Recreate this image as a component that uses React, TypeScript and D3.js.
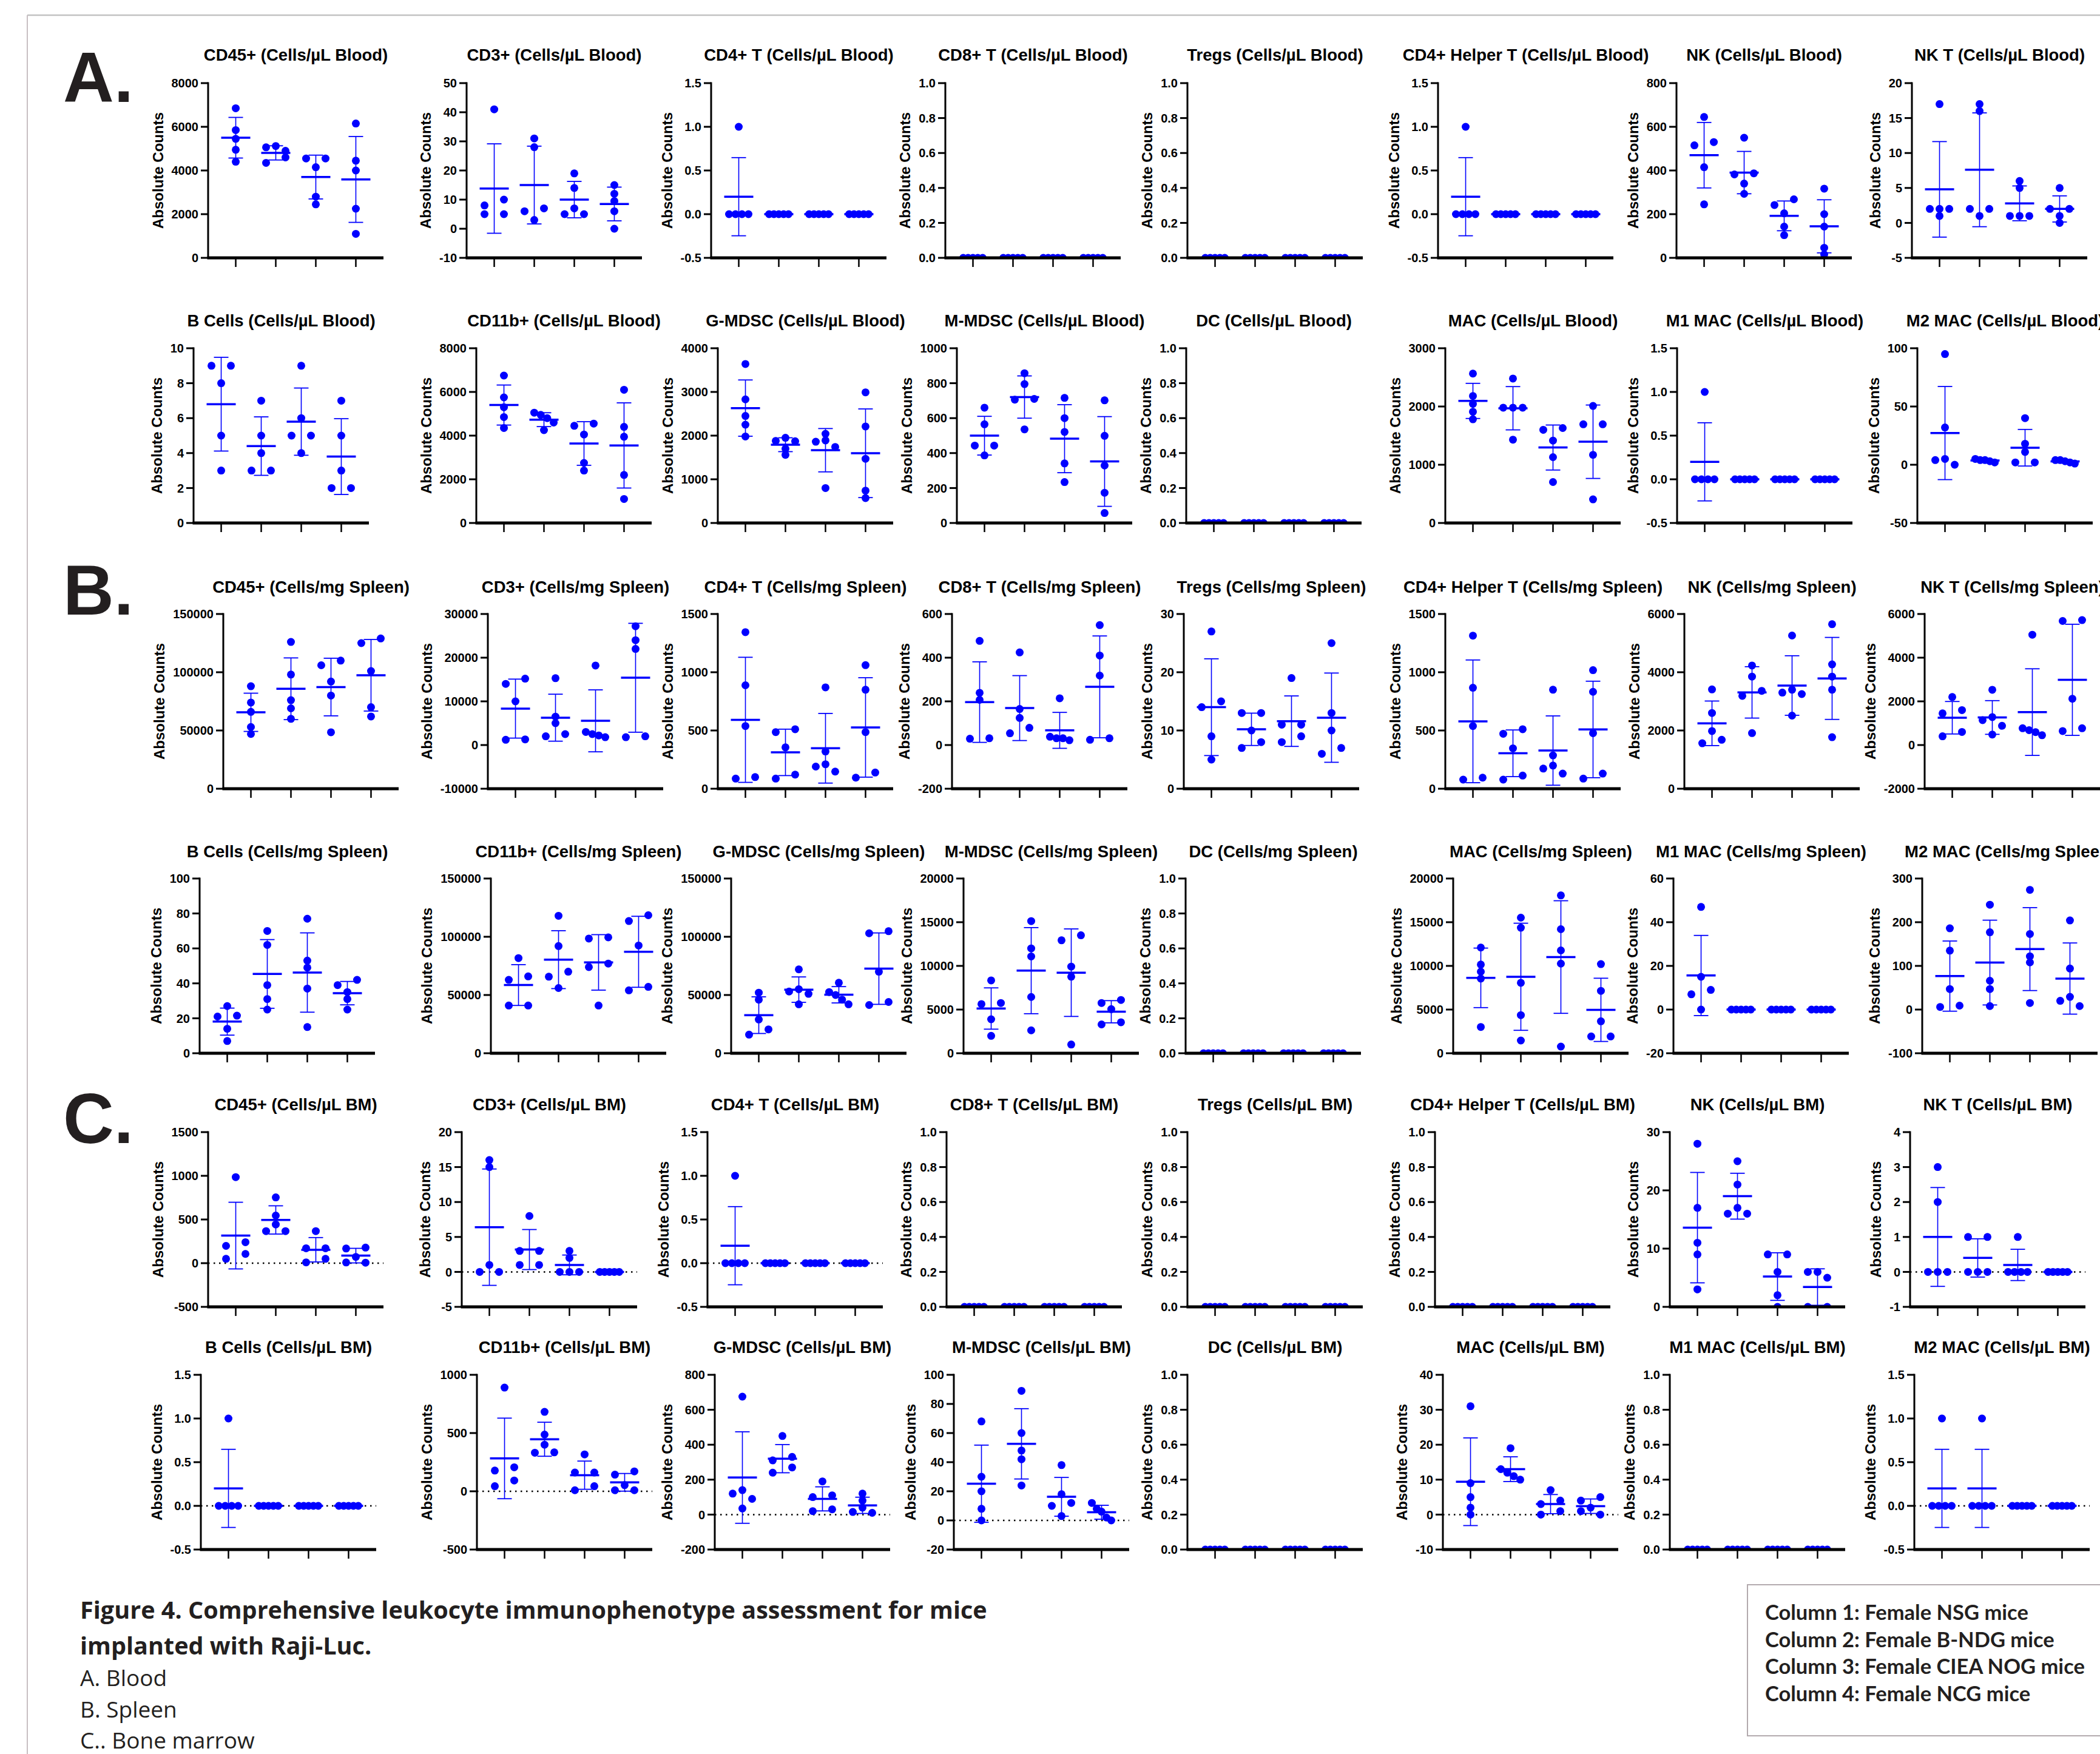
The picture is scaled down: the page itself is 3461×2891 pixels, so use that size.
import React from 'react';
import * as d3 from 'd3';

// ---------- DATA ----------
const groups = ['Female NSG mice', 'Female B-NDG mice', 'Female CIEA NOG mice', 'Female NCG mice'];
const Z = [0, 0, 0, 0, 0];
const ONE = [1, 0, 0, 0, 0];

// A. Blood (cells/µL)
const bloodCD45 = [[6850, 5850, 5450, 4950, 4400], [5120, 5060, 4900, 4600, 4350], [4550, 4550, 4150, 2800, 2450], [6150, 4450, 4000, 2250, 1100]];
const bloodCD3 = [[41, 10, 8, 5, 5], [31, 28, 7, 6, 3], [19, 14, 7, 5, 5], [15, 12, 9.5, 6, 0]];
const bloodCD4T = [ONE, Z, Z, Z];
const bloodCD8T = [Z, Z, Z, Z];
const bloodTregs = [Z, Z, Z, Z];
const bloodCD4Helper = [ONE, Z, Z, Z];
const bloodNK = [[645, 530, 515, 415, 245], [550, 387, 382, 340, 293], [268, 242, 204, 143, 104], [317, 200, 143, 46, 16]];
const bloodNKT = [[17, 2, 2, 2, 1], [17, 16, 2, 2, 1], [6, 5, 1, 1, 1], [5, 2, 2, 1, 0]];
const bloodB = [[9, 9, 8, 5, 3], [7, 5, 4, 3, 3], [9, 6, 5, 5, 4], [7, 5, 3, 2, 2]];
const bloodCD11b = [[6750, 5750, 5300, 4850, 4350], [5050, 4950, 4800, 4600, 4250], [4550, 4450, 4050, 2750, 2400], [6100, 4400, 3950, 2200, 1100]];
const bloodGMDSC = [[3640, 2830, 2450, 2250, 1980], [1950, 1880, 1870, 1700, 1560], [2040, 1890, 1860, 1740, 800], [2990, 2210, 1470, 740, 570]];
const bloodMMDSC = [[660, 565, 443, 443, 387], [857, 795, 710, 706, 536], [716, 600, 521, 341, 234], [702, 499, 329, 173, 57]];
const bloodDC = [Z, Z, Z, Z];
const bloodMAC = [[2565, 2180, 2045, 1910, 1780], [2480, 1980, 1980, 1980, 1430], [1630, 1600, 1415, 1130, 703], [2010, 1695, 1695, 1170, 405]];
const bloodM1 = [ONE, Z, Z, Z];
const bloodM2 = [[95, 32, 5, 4, 0], [5, 4, 4, 3, 2], [40, 18, 11, 2, 2], [4, 4, 3, 2, 1]];

// B. Spleen (cells/mg)
const spleenCD45 = [[88000, 74000, 66000, 53000, 47000], [126000, 98000, 76000, 69000, 60000], [110000, 106000, 92000, 80000, 48500], [129000, 125000, 101000, 70000, 62000]];
const spleenCD3 = [[15200, 14000, 10000, 1300, 1200], [15300, 6500, 5000, 2500, 2000], [18200, 3000, 2500, 2200, 1800], [27200, 24000, 22000, 2000, 1800]];
const spleenCD4T = [[1344, 888, 538, 100, 87], [511, 486, 355, 121, 87], [870, 320, 210, 190, 147], [1061, 850, 486, 139, 95]];
const spleenCD8T = [[477, 239, 207, 31, 29], [424, 165, 124, 79, 54], [214, 38, 31, 31, 22], [549, 410, 318, 31, 24]];
const spleenTregs = [[27, 15, 14, 9, 5], [13, 13, 10, 8, 7], [19, 11, 11, 9, 8], [25, 13, 10, 7, 6]];
const spleenCD4Helper = [[1314, 867, 538, 95, 78], [511, 472, 347, 113, 78], [850, 286, 199, 173, 130], [1018, 832, 477, 130, 87]];
const spleenNK = [[3410, 2600, 1980, 1680, 1560], [4230, 3850, 3360, 3190, 1910], [5260, 3400, 3300, 3250, 2510], [5650, 4270, 3850, 3400, 1770]];
const spleenNKT = [[2200, 1600, 1450, 600, 400], [2530, 1280, 1140, 880, 480], [5050, 770, 680, 590, 450], [5720, 5680, 2120, 770, 640]];
const spleenB = [[27, 21.5, 21, 14, 7], [70, 62, 39, 31, 25], [77, 53, 49, 37, 15], [42, 39, 35, 31, 25]];
const spleenCD11b = [[81700, 66000, 63000, 41000, 41000], [118000, 92000, 70000, 65700, 56000], [99500, 98500, 77000, 74000, 41000], [118500, 113500, 92500, 57000, 54000]];
const spleenGMDSC = [[52000, 46000, 29000, 20500, 16000], [72000, 55000, 53000, 51000, 42000], [60500, 52500, 50000, 46000, 42000], [104800, 103000, 70000, 44000, 41400]];
const spleenMMDSC = [[8340, 5750, 5630, 3890, 1990], [15130, 12000, 11080, 6440, 2620], [13500, 12930, 9920, 8760, 1000], [6100, 5750, 5050, 3550, 3300]];
const spleenDC = [Z, Z, Z, Z];
const spleenMAC = [[12100, 10150, 9340, 8550, 3010], [15520, 14370, 8060, 4360, 1460], [18070, 14200, 11770, 10260, 765], [10200, 7140, 3660, 1920, 1920]];
const spleenM1 = [[47, 15, 9, 7, 0], Z, Z, Z];
const spleenM2 = [[186, 135, 47, 9, 6], [240, 177, 66, 47, 8], [274, 173, 122, 108, 15], [204, 94, 29, 20, 8]];

// C. Bone marrow (cells/µL)
const bmCD45 = [[985, 240, 198, 106, 50], [753, 545, 443, 367, 367], [367, 171, 171, 50, 9], [178, 168, 72, 8, 6]];
const bmCD3 = [[16, 15, 1, 0, 0], [8, 3, 3, 1, 1], [3, 2, 0, 0, 0], Z];
const bmCD4T = [ONE, Z, Z, Z];
const bmCD8T = [Z, Z, Z, Z];
const bmTregs = [Z, Z, Z, Z];
const bmCD4Helper = [Z, Z, Z, Z];
const bmNK = [[28, 17, 11, 9, 3], [25, 21, 17, 16, 16], [9, 9, 6, 2, 0], [6, 6, 5, 0, 0]];
const bmNKT = [[3, 2, 0, 0, 0], [1, 1, 0, 0, 0], [1, 0, 0, 0, 0], Z];
const bmB = [ONE, Z, Z, Z];
const bmCD11b = [[890, 206, 178, 93, 44], [682, 487, 400, 334, 331], [317, 161, 161, 44, 9], [171, 143, 53, 9, 9]];
const bmGMDSC = [[675, 140, 120, 90, 35], [450, 330, 310, 270, 240], [190, 110, 100, 30, 20], [120, 80, 40, 15, 10]];
const bmMMDSC = [[68, 30, 20, 8, 0], [89, 60, 48, 42, 24], [38, 18, 12, 10, 3], [12, 8, 6, 2, 0]];
const bmDC = [Z, Z, Z, Z];
const bmMAC = [[31, 9, 5, 2, 0], [19, 13, 12, 11, 10], [7, 4, 3, 1, 0], [5, 4, 2, 1, 0]];
const bmM1 = [Z, Z, Z, Z];
const bmM2 = [ONE, ONE, Z, Z];

// titles
const row1Cells = ['CD45+', 'CD3+', 'CD4+ T', 'CD8+ T', 'Tregs', 'CD4+ Helper T', 'NK', 'NK T'];
const row2Cells = ['B Cells', 'CD11b+', 'G-MDSC', 'M-MDSC', 'DC', 'MAC', 'M1 MAC', 'M2 MAC'];
const tissueUnits = ['(Cells/µL Blood)', '(Cells/mg Spleen)', '(Cells/µL BM)'];

// y-axis [min, max, step]
const axesA1 = [[0, 8000, 2000], [-10, 50, 10], [-0.5, 1.5, 0.5], [0, 1, 0.2], [0, 1, 0.2], [-0.5, 1.5, 0.5], [0, 800, 200], [-5, 20, 5]];
const axesA2 = [[0, 10, 2], [0, 8000, 2000], [0, 4000, 1000], [0, 1000, 200], [0, 1, 0.2], [0, 3000, 1000], [-0.5, 1.5, 0.5], [-50, 100, 50]];
const axesB1 = [[0, 150000, 50000], [-10000, 30000, 10000], [0, 1500, 500], [-200, 600, 200], [0, 30, 10], [0, 1500, 500], [0, 6000, 2000], [-2000, 6000, 2000]];
const axesB2 = [[0, 100, 20], [0, 150000, 50000], [0, 150000, 50000], [0, 20000, 5000], [0, 1, 0.2], [0, 20000, 5000], [-20, 60, 20], [-100, 300, 100]];
const axesC1 = [[-500, 1500, 500], [-5, 20, 5], [-0.5, 1.5, 0.5], [0, 1, 0.2], [0, 1, 0.2], [0, 1, 0.2], [0, 30, 10], [-1, 4, 1]];
const axesC2 = [[-0.5, 1.5, 0.5], [-500, 1000, 500], [-200, 800, 200], [-20, 100, 20], [0, 1, 0.2], [-10, 40, 10], [0, 1, 0.2], [-0.5, 1.5, 0.5]];

const dataA1 = [bloodCD45, bloodCD3, bloodCD4T, bloodCD8T, bloodTregs, bloodCD4Helper, bloodNK, bloodNKT];
const dataA2 = [bloodB, bloodCD11b, bloodGMDSC, bloodMMDSC, bloodDC, bloodMAC, bloodM1, bloodM2];
const dataB1 = [spleenCD45, spleenCD3, spleenCD4T, spleenCD8T, spleenTregs, spleenCD4Helper, spleenNK, spleenNKT];
const dataB2 = [spleenB, spleenCD11b, spleenGMDSC, spleenMMDSC, spleenDC, spleenMAC, spleenM1, spleenM2];
const dataC1 = [bmCD45, bmCD3, bmCD4T, bmCD8T, bmTregs, bmCD4Helper, bmNK, bmNKT];
const dataC2 = [bmB, bmCD11b, bmGMDSC, bmMMDSC, bmDC, bmMAC, bmM1, bmM2];

const captionLines = ['Figure 4. Comprehensive leukocyte immunophenotype assessment for mice', 'implanted with Raji-Luc.'];
const captionParts = ['A. Blood', 'B. Spleen', 'C.. Bone marrow'];

// ---------- LAYOUT ----------
const W = 3461;
const H = 2891;
const AXIS_W = 289;
const rowAxisX = [
  [343, 769, 1172, 1558, 1957, 2370, 2763, 3151],
  [319, 785, 1183, 1577, 1955, 2382, 2764, 3160],
  [368, 804, 1183, 1569, 1951, 2382, 2776, 3172],
  [329, 809, 1205, 1588, 1954, 2395, 2758, 3168],
  [343, 761, 1166, 1560, 1957, 2365, 2752, 3148],
  [331, 786, 1178, 1572, 1957, 2378, 2752, 3155],
];
const rowY = [
  { top: 137, bottom: 425, title: 100 },
  { top: 574, bottom: 862, title: 538 },
  { top: 1012, bottom: 1300, title: 977 },
  { top: 1448, bottom: 1736, title: 1413 },
  { top: 1866, bottom: 2154, title: 1830 },
  { top: 2266, bottom: 2554, title: 2230 },
];

const BLUE = '#0000ff';
const PANEL_FONT = '"Liberation Sans", Arial, Helvetica, sans-serif';

function fmtTick(v: number, step: number) {
  const s = step < 1 ? d3.format('.1f')(v) : d3.format('d')(Math.round(v));
  return s.replace('\u2212', '-');
}
function estWidth(s: string) {
  let w = 0;
  for (const ch of s) w += ch === '-' ? 6.7 : ch === '.' ? 5.6 : 11.1;
  return w;
}

function swarmOffsets(vals: number[], y: (v: number) => number) {
  const idx = vals.map((_, i) => i).sort((a, b) => vals[b] - vals[a]);
  const off = new Array(vals.length).fill(0);
  let cluster: number[] = [idx[0]];
  const flush = () => {
    const n = cluster.length;
    if (n === 2) { off[cluster[0]] = 16; off[cluster[1]] = -16; }
    else if (n === 3) { off[cluster[0]] = 0; off[cluster[1]] = -16; off[cluster[2]] = 16; }
    else if (n > 3) cluster.forEach((k, j) => { off[k] = -16 + (32 * j) / (n - 1); });
  };
  for (let j = 1; j < idx.length; j++) {
    const p = idx[j - 1], c = idx[j];
    if (Math.abs(y(vals[p]) - y(vals[c])) < 10) cluster.push(c);
    else { flush(); cluster = [c]; }
  }
  flush();
  return off;
}

type PanelProps = { id: string; title: string; ax: number; top: number; bottom: number; titleY: number; axis: number[]; data: number[][]; dotted: boolean };

function Panel({ id, title, ax, top, bottom, titleY, axis, data, dotted }: PanelProps) {
  const [min, max, step] = axis;
  const y = d3.scaleLinear().domain([min, max]).range([bottom, top]);
  const x = d3.scalePoint<number>().domain([0, 1, 2, 3]).range([ax, ax + AXIS_W]).padding(0.69);
  const ticks = d3.range(min, max + step / 2, step);
  const labels = ticks.map((t) => fmtTick(t, step));
  const maxW = d3.max(labels, estWidth) || 0;
  const labelX = ax - 16 - maxW - 14;
  const cy = (top + bottom) / 2;
  const clipId = `clip-${id}`;
  return (
    <g fontFamily={PANEL_FONT} fontWeight="bold">
      <defs>
        <clipPath id={clipId}>
          <rect x={ax - 40} y={top - 30} width={AXIS_W + 80} height={bottom - top + 30} />
        </clipPath>
      </defs>
      <text x={ax + AXIS_W / 2} y={titleY} textAnchor="middle" fontSize={27.5} fill="#000">{title}</text>
      <text transform={`translate(${labelX},${cy}) rotate(-90)`} textAnchor="middle" fontSize={24} fill="#000">Absolute Counts</text>
      {dotted && min < 0 && (
        <line x1={ax} x2={ax + AXIS_W} y1={y(0)} y2={y(0)} stroke="#000" strokeWidth={2.5} strokeDasharray="2.5 6.5" />
      )}
      <g clipPath={`url(#${clipId})`}>
        {data.map((vals, gi) => {
          const cx = x(gi) as number;
          const off = swarmOffsets(vals, y);
          const m = d3.mean(vals) as number;
          const sd = d3.deviation(vals) || 0;
          return (
            <g key={gi}>
              {vals.map((v, k) => (
                <circle key={k} cx={cx + off[k]} cy={y(v)} r={6.5} fill={BLUE} />
              ))}
              <line x1={cx} x2={cx} y1={y(m - sd)} y2={y(m + sd)} stroke={BLUE} strokeWidth={1.6} />
              <line x1={cx - 12} x2={cx + 12} y1={y(m - sd)} y2={y(m - sd)} stroke={BLUE} strokeWidth={1.8} />
              <line x1={cx - 12} x2={cx + 12} y1={y(m + sd)} y2={y(m + sd)} stroke={BLUE} strokeWidth={1.8} />
              <line x1={cx - 24} x2={cx + 24} y1={y(m)} y2={y(m)} stroke={BLUE} strokeWidth={3.5} />
            </g>
          );
        })}
      </g>
      {/* y axis */}
      <line x1={ax} x2={ax} y1={top - 1.5} y2={bottom} stroke="#000" strokeWidth={3} />
      {ticks.map((t, i) => (
        <g key={i}>
          <line x1={ax - 12} x2={ax} y1={y(t)} y2={y(t)} stroke="#000" strokeWidth={3} />
          <text x={ax - 16} y={y(t)} dy="0.36em" textAnchor="end" fontSize={20} fill="#000">{labels[i]}</text>
        </g>
      ))}
      {/* x axis */}
      <line x1={ax - 1.5} x2={ax + AXIS_W} y1={bottom} y2={bottom} stroke="#000" strokeWidth={5} />
      {[0, 1, 2, 3].map((gi) => (
        <line key={gi} x1={x(gi) as number} x2={x(gi) as number} y1={bottom} y2={bottom + 15} stroke="#000" strokeWidth={2.5} />
      ))}
    </g>
  );
}

export default function App() {
  const rows = [
    { axes: axesA1, data: dataA1, names: row1Cells, unit: tissueUnits[0], dotted: false },
    { axes: axesA2, data: dataA2, names: row2Cells, unit: tissueUnits[0], dotted: false },
    { axes: axesB1, data: dataB1, names: row1Cells, unit: tissueUnits[1], dotted: false },
    { axes: axesB2, data: dataB2, names: row2Cells, unit: tissueUnits[1], dotted: false },
    { axes: axesC1, data: dataC1, names: row1Cells, unit: tissueUnits[2], dotted: true },
    { axes: axesC2, data: dataC2, names: row2Cells, unit: tissueUnits[2], dotted: true },
  ];
  const letters = [
    { t: 'A.', y: 168 },
    { t: 'B.', y: 1013 },
    { t: 'C.', y: 1884 },
  ];
  return (
    <svg width={W} height={H} viewBox={`0 0 ${W} ${H}`} style={{ position: 'absolute', left: 0, top: 0, background: '#fff' }}>
      <rect x={0} y={0} width={W} height={H} fill="#fff" />
      <line x1={45} x2={W} y1={25} y2={25} stroke="#c2c2c2" strokeWidth={2.5} />
      <line x1={45} x2={45} y1={25} y2={H} stroke="#c8bfc3" strokeWidth={2} />
      {letters.map((l) => (
        <text key={l.t} x={104} y={l.y} fontFamily={PANEL_FONT} fontWeight="bold" fontSize={116} fill="#231f20">{l.t}</text>
      ))}
      {rows.map((r, ri) =>
        r.names.map((nm, ci) => (
          <Panel
            key={`${ri}-${ci}`}
            id={`${ri}-${ci}`}
            title={`${nm} ${r.unit}`}
            ax={rowAxisX[ri][ci]}
            top={rowY[ri].top}
            bottom={rowY[ri].bottom}
            titleY={rowY[ri].title}
            axis={r.axes[ci]}
            data={r.data[ci]}
            dotted={r.dotted}
          />
        ))
      )}
      {/* caption */}
      <g fontFamily='"Open Sans", sans-serif' fill="#231f20">
        {captionLines.map((c, i) => (
          <text key={c} x={132} y={2668 + i * 59} fontSize={39.6} fontWeight="bold">{c}</text>
        ))}
        {captionParts.map((c, i) => (
          <text key={c} x={132} y={2779 + i * 51.5} fontSize={37}>{c}</text>
        ))}
      </g>
      {/* legend */}
      <rect x={2880} y={2612} width={700} height={249} fill="none" stroke="#b3aaae" strokeWidth={2} />
      <g fontFamily='Lato, "Open Sans", sans-serif' fontWeight="bold" fontSize={34.5} fill="#231f20">
        {groups.map((g, i) => (
          <text key={g} x={2909} y={2670 + i * 44.5}>{`Column ${i + 1}: ${g}`}</text>
        ))}
      </g>
    </svg>
  );
}
